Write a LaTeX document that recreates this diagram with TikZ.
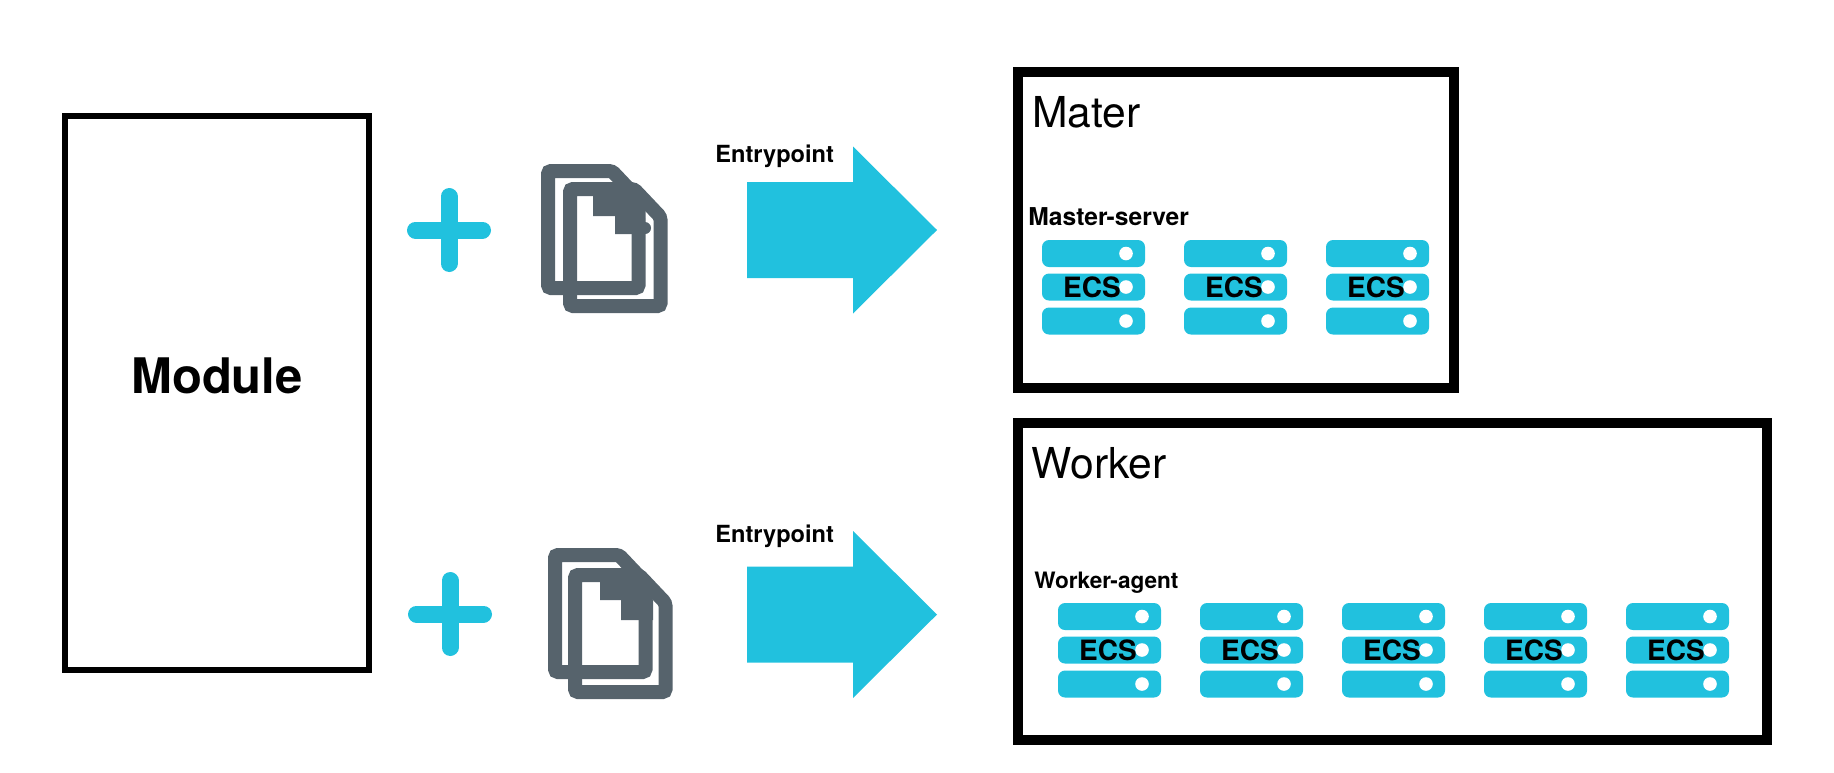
\documentclass[tikz,border=0pt]{standalone}
\usepackage{fontspec}
\setmainfont{TeX Gyre Heros}
\usetikzlibrary{positioning}
\definecolor{ecscyan}{HTML}{21C1DE}
\definecolor{docgray}{HTML}{56636C}
\tikzset{
  frame/.style={draw=black,line width=5pt},
  bar/.style={fill=ecscyan,rounded corners=3.5pt},
  hole/.style={fill=white},
  doc/.style={draw=docgray,line width=7pt,rounded corners=1.5pt},
  fold/.style={fill=docgray},
  title/.style={anchor=base west,inner sep=0pt,font=\fontsize{21.3}{24}\selectfont},
  label/.style={anchor=base west,inner sep=0pt,font=\fontsize{#1}{16}\selectfont\bfseries},
}
% one rack of three bars: name, left, top
\newcommand{\ecsrack}[3]{
  \fill[bar] (#2,#3) rectangle ++(103,27);
  \fill[bar] (#2,#3+33.5) rectangle ++(103,27);
  \fill[bar] (#2,#3+67.5) rectangle ++(103,27);
  \fill[hole] (#2+84,#3+13.5) circle (3.4pt);
  \fill[hole] (#2+84,#3+47) circle (3.4pt);
  \fill[hole] (#2+84,#3+81) circle (3.4pt);
  \node[inner sep=0pt,font=\fontsize{14}{16}\selectfont\bfseries] (#1) at (#2+50,#3+47) {ECS};
}
% one sheet of paper: left, top of its outer edge
\newcommand{\sheet}[2]{
  \draw[doc] (#1+7,#2+7) -- (#1+71,#2+7) -- (#1+97.5,#2+35) -- (#1+97.5,#2+124) -- (#1+7,#2+124) -- cycle;
}
% block arrow: centre height of the shaft
\newcommand{\blockarrow}[1]{
  \fill[ecscyan] (747,#1-48) -- (853,#1-48) -- (853,#1-83.5) -- (937,#1) -- (853,#1+83.5) -- (853,#1+48) -- (747,#1+48) -- cycle;
}
% plus sign: centre
\newcommand{\plussign}[2]{
  \draw[ecscyan,line width=8.5pt,line cap=round] (#1-33.5,#2) -- (#1+33.5,#2);
  \draw[ecscyan,line width=8.5pt,line cap=round] (#1,#2-33.5) -- (#1,#2+33.5);
}

\begin{document}
\begin{tikzpicture}[x=0.5pt,y=-0.5pt]
  \useasboundingbox (0,0) rectangle (1834,772);

  % module
  \draw[line width=3.2pt] (65,116) rectangle (369,670);
  \node[inner sep=0pt,anchor=base,font=\fontsize{24.5}{28}\selectfont\bfseries] (module) at (217,393.5) {Module};

  % top row
  \plussign{449}{230}
  \sheet{541}{164}
  \fill[fold] (593,184) -- (619,184) -- (633,199) -- (633,216) -- (593,216) -- cycle;
  \sheet{563}{182}
  \fill[fold] (615,203) -- (631,203) -- (645,218) -- (645,234) -- (615,234) -- cycle;
  \fill[docgray] (645,228) circle (3pt);
  \blockarrow{230}
  \node[label=11.8] (entrytop) at (715,162) {Entrypoint};

  % master
  \draw[frame] (1018,72) rectangle (1454,388);
  \node[title] (mater) at (1032,127) {Mater};
  \node[label=12.3] (masterserver) at (1028,225) {Master-server};
  \ecsrack{ecsa}{1042}{240}
  \ecsrack{ecsb}{1184}{240}
  \ecsrack{ecsc}{1326}{240}

  % bottom row
  \plussign{450}{614}
  \sheet{548}{548}
  \fill[fold] (600,570) -- (623,570) -- (640,589) -- (640,600) -- (600,600) -- cycle;
  \sheet{568}{568}
  \fill[fold] (621,582) -- (637,582) -- (653,600) -- (653,620) -- (621,620) -- cycle;
  \blockarrow{614.5}
  \node[label=11.8] (entrybottom) at (715,542) {Entrypoint};

  % worker
  \draw[frame] (1018,423) rectangle (1767,740);
  \node[title] (worker) at (1031,478) {Worker};
  \node[label=11.3] (workeragent) at (1034,588) {Worker-agent};
  \ecsrack{ecsd}{1058}{603}
  \ecsrack{ecse}{1200}{603}
  \ecsrack{ecsf}{1342}{603}
  \ecsrack{ecsg}{1484}{603}
  \ecsrack{ecsh}{1626}{603}
\end{tikzpicture}
\end{document}
